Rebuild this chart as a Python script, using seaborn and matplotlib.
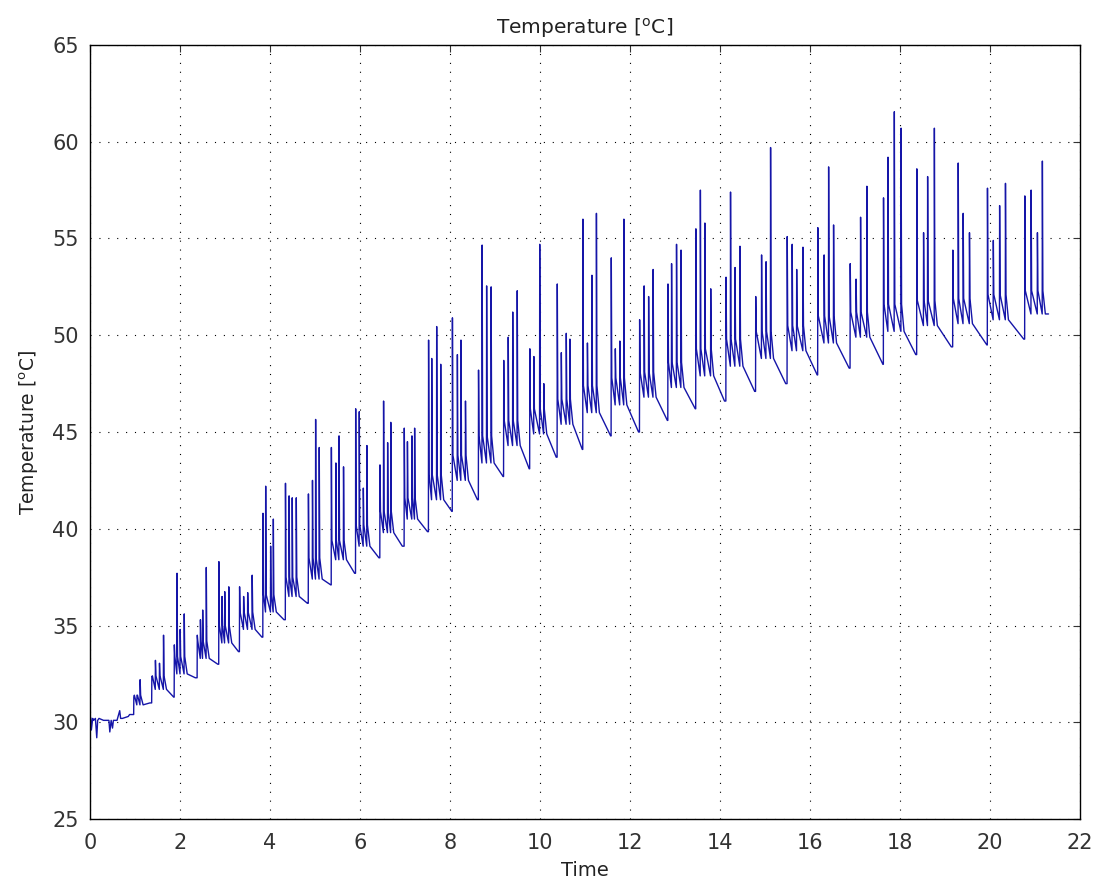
import matplotlib
matplotlib.use("Agg")
import matplotlib.pyplot as plt
import seaborn as sns
import pandas as pd

# Warm-up phase: flat, noisy readings before the heating cycles start
early_time = [0.0, 0.02, 0.03, 0.06, 0.08, 0.12, 0.15, 0.17, 0.20, 0.30,
              0.42, 0.44, 0.47, 0.50, 0.52, 0.60, 0.66, 0.68, 0.72, 0.85]
early_temp = [30.3, 30.2, 29.6, 30.2, 30.1, 30.2, 29.2, 30.1, 30.2, 30.1,
              30.1, 29.5, 30.1, 29.7, 30.1, 30.1, 30.6, 30.2, 30.2, 30.3]

# Heating cycles: each starts at a local minimum, carries a burst of spikes
# (the trace falls back to a shoulder after each one and sags to a plateau
# before the next), then cools down to the next minimum
trough_time = [0.88, 1.33, 1.86, 2.34, 2.84, 3.30, 3.82, 4.31, 4.83, 5.35,
               5.88, 6.42, 6.94, 7.50, 8.04, 8.61, 9.18, 9.76, 10.36, 10.94,
               11.57, 12.19, 12.83, 13.45, 14.10, 14.77, 15.46, 16.16, 16.87, 17.62,
               18.35, 19.14, 19.93, 20.75]
trough_temp = [30.4, 31.0, 31.3, 32.3, 33.0, 33.65, 34.4, 35.3, 36.15, 37.1,
               37.7, 38.5, 39.1, 39.85, 40.9, 41.5, 42.7, 43.1, 43.7, 44.1,
               44.8, 45.0, 45.6, 46.2, 46.6, 47.1, 47.5, 47.95, 48.3, 48.5,
               49.0, 49.4, 49.5, 49.8]
plateau_temp = [30.9, 31.7, 32.5, 33.3, 34.1, 34.8, 35.7, 36.5, 37.4, 38.4,
                39.1, 39.8, 40.5, 41.5, 42.5, 43.4, 44.3, 44.9, 45.4, 46.0,
                46.4, 46.8, 47.3, 47.9, 48.4, 48.8, 49.2, 49.6, 49.9, 50.2,
                50.5, 50.6, 50.8, 51.1]
shoulder_temp = [31.4, 32.4, 33.4, 34.2, 35.0, 35.7, 36.6, 37.5, 38.5, 39.4,
                 40.2, 40.9, 41.6, 42.8, 43.8, 44.8, 45.6, 46.2, 46.7, 47.4,
                 47.8, 48.1, 48.6, 49.3, 49.8, 50.2, 50.5, 51.0, 51.2, 51.6,
                 51.8, 51.9, 52.1, 52.3]
spike_time = [
    [0.97, 1.04, 1.11], [1.37, 1.45, 1.54, 1.63], [1.87, 1.93, 2.00, 2.09],
    [2.38, 2.45, 2.50, 2.58], [2.86, 2.93, 2.99, 3.08], [3.32, 3.41, 3.50, 3.60],
    [3.84, 3.90, 4.01, 4.07], [4.34, 4.42, 4.49, 4.58], [4.85, 4.94, 5.01, 5.09],
    [5.36, 5.46, 5.53, 5.63], [5.90, 5.98, 6.07, 6.15], [6.44, 6.52, 6.61, 6.68],
    [6.98, 7.05, 7.15, 7.21], [7.52, 7.59, 7.70, 7.79], [8.05, 8.16, 8.24, 8.34],
    [8.63, 8.71, 8.81, 8.91], [9.19, 9.29, 9.39, 9.49], [9.77, 9.86, 9.99, 10.08],
    [10.38, 10.47, 10.58, 10.66], [10.95, 11.05, 11.15, 11.25], [11.58, 11.67, 11.77, 11.86],
    [12.21, 12.31, 12.41, 12.51], [12.84, 12.92, 13.03, 13.13], [13.46, 13.56, 13.66, 13.79],
    [14.13, 14.23, 14.33, 14.44], [14.79, 14.92, 15.02, 15.12], [15.49, 15.60, 15.70, 15.84],
    [16.17, 16.31, 16.41, 16.52], [16.89, 17.02, 17.12, 17.26], [17.63, 17.73, 17.87, 18.02],
    [18.37, 18.52, 18.61, 18.76], [19.17, 19.29, 19.40, 19.54], [19.94, 20.07, 20.21, 20.34],
    [20.77, 20.91, 21.05, 21.16],
]
spike_peak = [
    [31.3, 31.4, 32.2], [32.35, 33.2, 33.05, 34.5], [34.0, 37.7, 34.8, 35.6],
    [34.5, 35.3, 35.8, 38.0], [38.3, 36.5, 36.75, 37.0], [37.0, 36.5, 36.7, 37.6],
    [40.8, 42.2, 39.1, 40.5], [42.35, 41.7, 41.6, 41.6], [41.8, 42.5, 45.65, 44.2],
    [44.2, 43.4, 44.8, 43.2], [46.2, 46.05, 42.1, 44.3], [43.3, 46.6, 44.45, 45.5],
    [45.2, 44.5, 44.8, 45.2], [49.75, 48.8, 50.45, 48.5], [50.9, 49.0, 49.75, 46.6],
    [48.2, 54.66, 52.55, 52.5], [48.7, 49.9, 51.2, 52.3], [49.3, 48.9, 54.7, 47.5],
    [52.65, 49.1, 50.1, 49.8], [56.0, 49.6, 53.1, 56.3], [54.0, 49.3, 49.7, 56.0],
    [50.8, 52.55, 52.0, 53.4], [52.65, 53.7, 54.7, 54.4], [55.5, 57.5, 55.8, 52.4],
    [53.0, 57.4, 53.5, 54.6], [52.0, 54.15, 53.8, 59.7], [55.1, 54.7, 53.4, 54.55],
    [55.56, 54.15, 58.7, 55.7], [53.7, 52.9, 56.1, 57.7], [57.1, 59.2, 61.55, 60.7],
    [58.6, 55.3, 58.2, 60.7], [54.4, 58.9, 56.3, 55.3], [57.6, 54.9, 56.7, 57.85],
    [57.2, 57.5, 55.3, 59.0],
]
end_time = 21.3
end_temp = 51.1

# Assemble the trace as one polyline
t_pts = list(early_time)
v_pts = list(early_temp)
for i, tt in enumerate(trough_time):
    tv, pv, sv = trough_temp[i], plateau_temp[i], shoulder_temp[i]
    t_pts.append(tt)
    v_pts.append(tv)
    for j, (ts, pk) in enumerate(zip(spike_time[i], spike_peak[i])):
        foot = tv if j == 0 else pv
        t_pts += [ts, ts + 0.004, ts + 0.015]
        v_pts += [foot, pk, sv]
    # quick fall back to the plateau once the burst is over
    t_pts.append(spike_time[i][-1] + 0.07)
    v_pts.append(pv)
t_pts.append(end_time)
v_pts.append(end_temp)

trace = pd.DataFrame({"Time": t_pts, "Temperature": v_pts})

sns.set_style("white")
plt.rcParams["font.family"] = ["DejaVu Sans"]
plt.rcParams["mathtext.default"] = "regular"

fig = plt.figure(figsize=(10.95, 8.89), dpi=100)
ax = fig.add_axes([0.0822, 0.0787, 0.9041, 0.8707])

sns.lineplot(data=trace, x="Time", y="Temperature", sort=False, estimator=None,
             color="#1515a8", linewidth=1.0, ax=ax)

ax.set_xlim(0, 22)
ax.set_ylim(25, 65)
ax.set_xticks(range(0, 23, 2))
ax.set_yticks(range(25, 66, 5))
ax.grid(True, color="black", linestyle=(0, (1, 7)), linewidth=0.8)
ax.tick_params(direction="in", top=True, right=True, length=5, width=0.8,
               labelsize=15, colors="#333333")
ax.tick_params(axis="x", pad=10)
ax.tick_params(axis="y", pad=8)
for sp in ax.spines.values():
    sp.set_color("black")
    sp.set_linewidth(1.0)

ax.set_xlabel("Time", fontsize=14, color="#222222", labelpad=6)
ax.set_ylabel("Temperature [$^{o}$C]", fontsize=13.5, color="#222222", labelpad=8)
ax.set_title("Temperature [$^{o}$C]", fontsize=14.5, color="#222222", pad=8)

fig.savefig("out.png", dpi=100, facecolor="white")
